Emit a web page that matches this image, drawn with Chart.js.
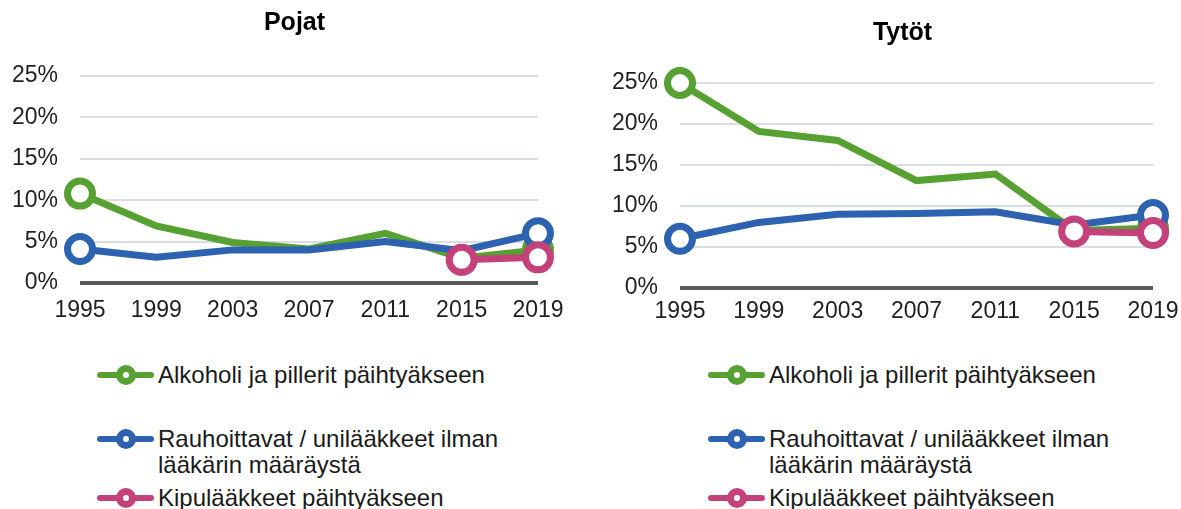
<!DOCTYPE html>
<html>
<head>
<meta charset="utf-8">
<script src="https://cdn.jsdelivr.net/npm/chart.js@4.4.1/dist/chart.umd.min.js"></script>
<style>
  body { margin: 0; background: #fff; width: 1181px; height: 509px; overflow: hidden; position: relative;
         font-family: "Liberation Sans", Arial, sans-serif; color: #1a1a1a; }
  canvas { position: absolute; top: 0; }
  #boysChart { left: 0; }
  #girlsChart { left: 590px; }
  .legend { position: absolute; top: 0; width: 480px; }
  .item { position: absolute; left: 0; font-size: 24px; line-height: 26px; }
  .item .txt { position: absolute; left: 61px; top: 0; width: 360px; }
  .sym { position: absolute; left: 0; top: 13px; width: 57px; height: 0; }
  .sym .line { position: absolute; left: 0; top: -3px; width: 57px; height: 6px; border-radius: 3px; }
  .sym .dot { position: absolute; left: 19px; top: -10px; width: 20px; height: 20px; border-radius: 50%; }
  .sym .dot::after { content: ""; position: absolute; left: 7px; top: 7px; width: 6px; height: 6px;
                     border-radius: 50%; background: #fff; }
</style>
</head>
<body>
<canvas id="boysChart" width="589" height="335"></canvas>
<canvas id="girlsChart" width="625" height="340"></canvas>
<div class="legend" id="boysLegend" style="left:97px"></div>
<div class="legend" id="girlsLegend" style="left:708px"></div>
<script>
// years on the x axis
const years = ['1995', '1999', '2003', '2007', '2011', '2015', '2019']
const yTicks = [0, 5, 10, 15, 20, 25]

const seriesNames = [
  'Alkoholi ja pillerit päihtyäkseen',
  'Rauhoittavat / unilääkkeet ilman lääkärin määräystä',
  'Kipulääkkeet päihtyäkseen'
]
const seriesColors = ['#57a133', '#2d62b0', '#c3427a']

// Pojat (%)
const boysAlcoholPills = [10.8, 6.9, 4.9, 4.1, 6.0, 3.0, 4.0]
const boysSedatives = [4.1, 3.1, 4.0, 4.0, 5.0, 3.9, 6.0]
const boysPainkillers = [null, null, null, null, null, 2.8, 3.1]

// Tytöt (%)
const girlsAlcoholPills = [25.0, 19.1, 18.0, 13.1, 13.9, 7.0, 7.3]
const girlsSedatives = [6.0, 8.0, 9.0, 9.1, 9.3, 7.7, 8.9]
const girlsPainkillers = [null, null, null, null, null, 6.9, 6.7]

Chart.defaults.font.family = "'Liberation Sans', Arial, sans-serif"
Chart.defaults.color = '#1f1f1f'

/**
 * marker only on the first and the last value of a series
 */
function endMarker(ctx){
  const data = ctx.dataset.data
  const first = data.findIndex(v => v !== null)
  return (ctx.dataIndex === first || ctx.dataIndex === data.length - 1) ? 12.5 : 0
}

function makeChart(id, title, seriesData, geo){
  const datasets = seriesData.map((values, i) => ({
    label: seriesNames[i],
    data: values,
    borderColor: seriesColors[i],
    backgroundColor: seriesColors[i],
    borderWidth: 7,
    tension: 0,
    pointRadius: endMarker,
    pointHoverRadius: endMarker,
    pointBorderWidth: 7,
    pointBorderColor: seriesColors[i],
    pointBackgroundColor: '#ffffff',
    order: 3 - i,
    clip: false
  }))

  return new Chart(document.getElementById(id), {
    type: 'line',
    data: { labels: years, datasets: datasets },
    options: {
      responsive: false,
      animation: false,
      layout: { padding: 0 },
      plugins: {
        legend: { display: false },
        tooltip: { enabled: false },
        title: {
          display: true,
          text: title,
          color: '#000',
          font: { size: 25, weight: 'bold' },
          padding: { top: geo.titleTop, bottom: geo.titleBottom }
        }
      },
      scales: {
        x: {
          offset: false,
          grid: { display: false, drawTicks: false },
          border: { display: false },
          ticks: { font: { size: 23 }, padding: geo.xPad, maxRotation: 0, autoSkip: false },
          afterFit: s => { s.height = geo.xHeight }
        },
        y: {
          min: 0,
          max: 25,
          grid: {
            drawTicks: false,
            color: c => c.tick && c.tick.value === 0 ? '#595959' : '#d9dce1',
            lineWidth: c => c.tick && c.tick.value === 0 ? 4 : 2
          },
          border: { display: false },
          afterBuildTicks: s => { s.ticks = yTicks.map(v => ({ value: v })) },
          ticks: { font: { size: 23 }, padding: 22, callback: v => v + '%' },
          afterFit: s => { s.width = geo.yWidth }
        },
        // empty space on the right so the title sits where it does in the picture
        spacer: {
          type: 'linear',
          position: 'right',
          grid: { display: false, drawTicks: false },
          border: { display: false },
          ticks: { display: false },
          afterFit: s => { s.width = geo.rightW }
        }
      }
    }
  })
}

function makeLegend(id){
  const box = document.getElementById(id)
  const tops = [362, 426, 485]
  seriesNames.forEach((name, i) => {
    const item = document.createElement('div')
    item.className = 'item'
    item.style.top = tops[i] + 'px'
    item.innerHTML =
      '<div class="sym"><div class="line" style="background:' + seriesColors[i] + '"></div>' +
      '<div class="dot" style="background:' + seriesColors[i] + '"></div></div>' +
      '<div class="txt">' + name + '</div>'
    box.appendChild(item)
  })
}

makeChart('boysChart', 'Pojat', [boysAlcoholPills, boysSedatives, boysPainkillers],
  { yWidth: 80, rightW: 51, titleTop: 8, titleBottom: 38, xHeight: 52, xPad: 14 })
makeChart('girlsChart', 'Tytöt', [girlsAlcoholPills, girlsSedatives, girlsPainkillers],
  { yWidth: 90, rightW: 62, titleTop: 18, titleBottom: 35, xHeight: 52, xPad: 10 })

makeLegend('boysLegend')
makeLegend('girlsLegend')
</script>
</body>
</html>
